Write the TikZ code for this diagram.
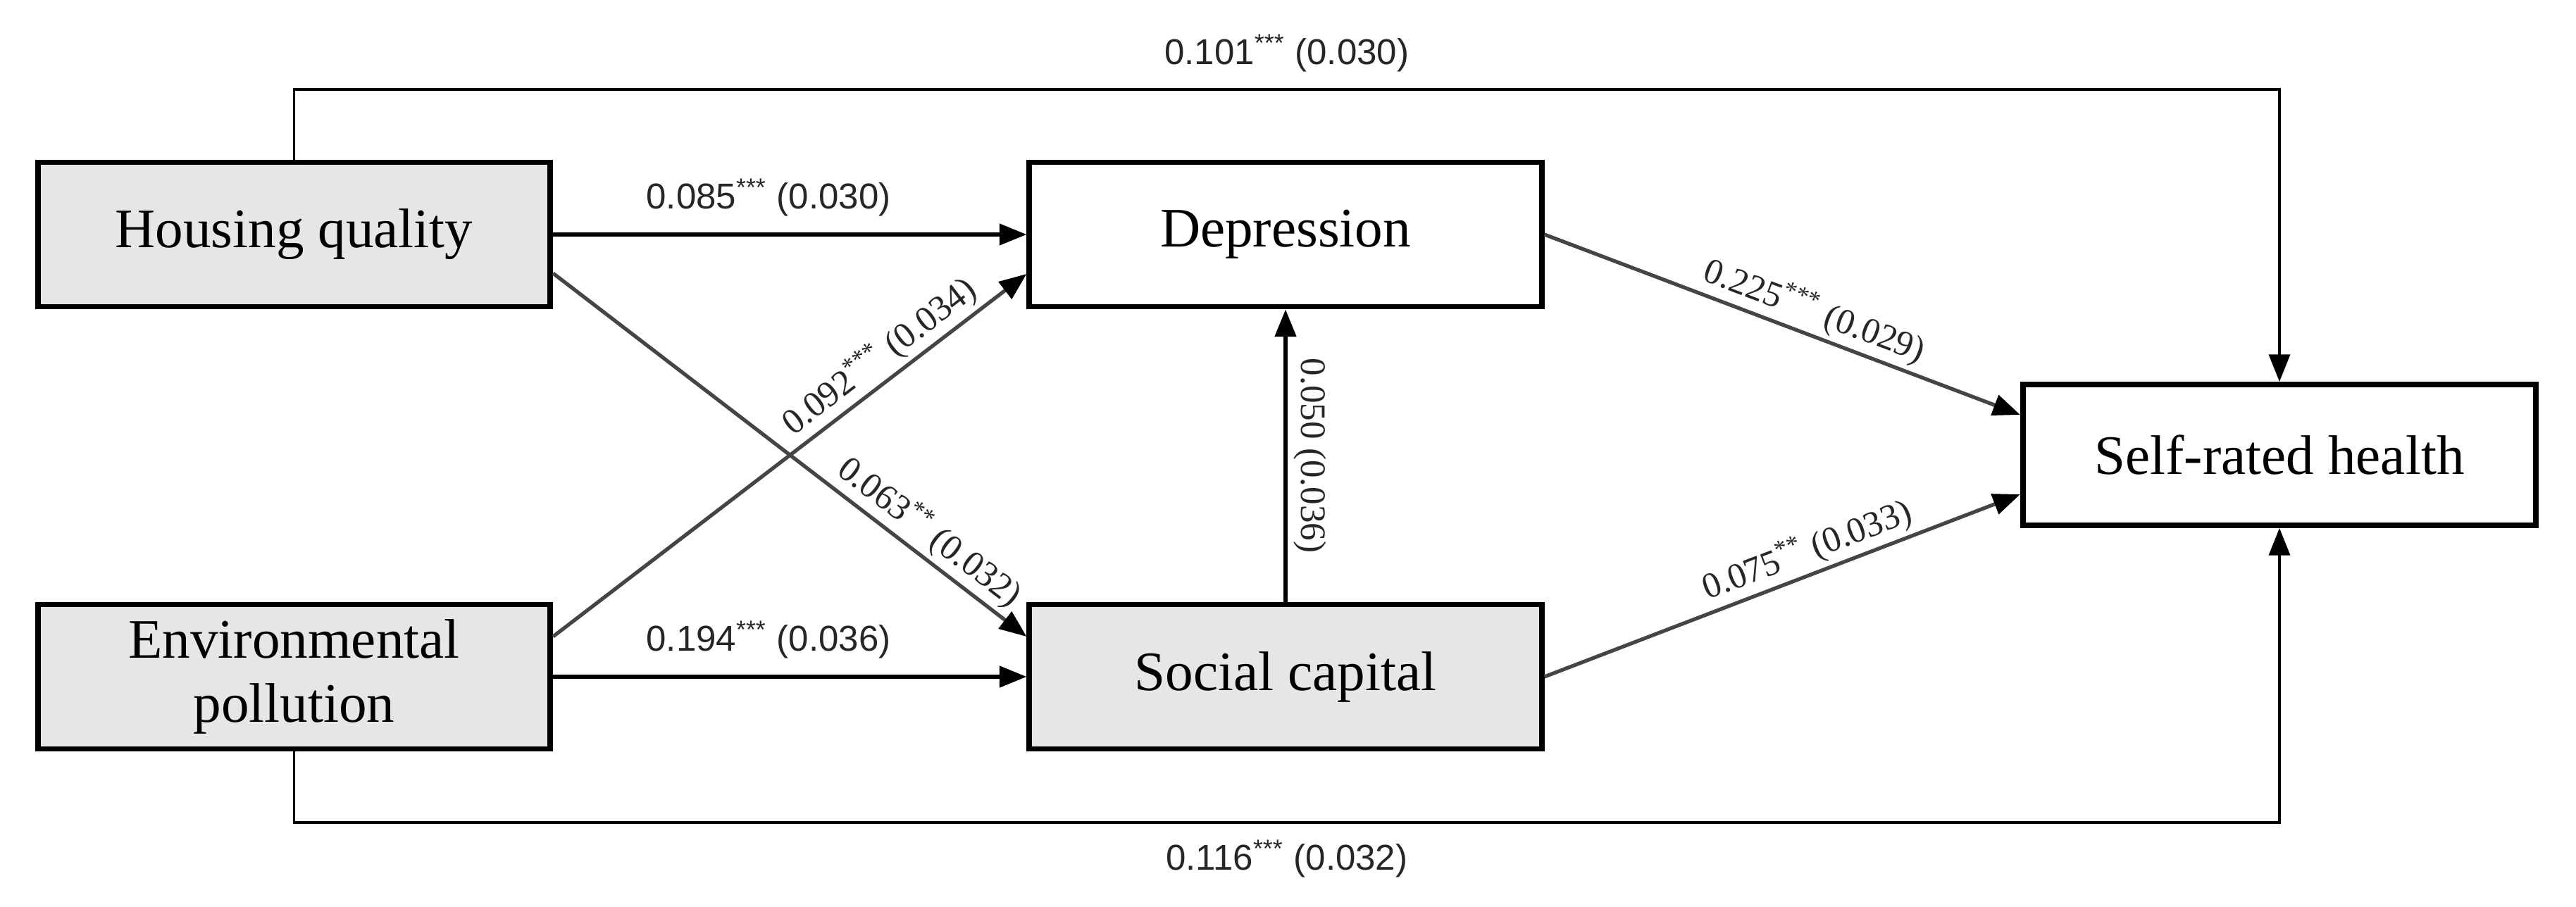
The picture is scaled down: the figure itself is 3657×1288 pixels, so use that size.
\documentclass[tikz,border=0pt]{standalone}
\usepackage{fontspec}
\setmainfont{Liberation Serif}
\newfontfamily\lblsans{Liberation Sans}
\usetikzlibrary{arrows.meta,calc}
\definecolor{boxgray}{HTML}{E6E6E6}
\definecolor{linegray}{HTML}{454545}
\begin{document}
\begin{tikzpicture}[x=0.01cm,y=-0.01cm,
 box/.style={draw=black, line width=2.2pt, minimum width=7.27cm, minimum height=2.05cm, inner sep=0pt, align=center, font=\fontsize{22.5}{26}\selectfont},
 grbox/.style={box, fill=boxgray},
 arr/.style={line width=1.5pt, -{Triangle[length=11pt,width=8.5pt,color=black]}},
 darr/.style={arr, draw=linegray},
 loopline/.style={line width=1.1pt, -{Triangle[length=11pt,width=8.5pt]}},
 slab/.style={font=\lblsans\fontsize{14.5}{16}\selectfont, inner sep=2pt, text=black!85},
 serlab/.style={font=\fontsize{14.5}{16}\selectfont, inner sep=1.5pt, sloped, text=black!85}
]
\useasboundingbox (0,0) rectangle (3657,1288);
\node[grbox] (HQ) at (417.5,333) {Housing quality};
\node[grbox] (EP) at (417.5,961) {Environmental\\pollution};
\node[box] (DEP) at (1825,333) {Depression};
\node[grbox] (SC) at (1825,961) {Social capital};
\node[box, minimum height=2.0cm, minimum width=7.28cm] (SRH) at (3236,646) {Self-rated health};
\coordinate (top) at (0,127);
\coordinate (bot) at (0,1168);
% direct paths via top and bottom
\draw[loopline] (HQ.north) -- (HQ.north |- top) -- node[slab, above=4.5pt, midway] {0.101\textsuperscript{***} (0.030)} (SRH.north |- top) -- (SRH.north);
\draw[loopline] (EP.south) -- (EP.south |- bot) -- node[slab, below=4.5pt, midway] {0.116\textsuperscript{***} (0.032)} (SRH.south |- bot) -- (SRH.south);
% horizontal arrows
\draw[arr] (HQ.east) -- node[slab, above=4.5pt, pos=0.455] {0.085\textsuperscript{***} (0.030)} (DEP.west);
\draw[arr] (EP.east) -- node[slab, above=4.5pt, pos=0.455] {0.194\textsuperscript{***} (0.036)} (SC.west);
% diagonal arrows
\draw[darr] ($(HQ.east)+(0,55)$) -- node[serlab, above, pos=0.765] {0.063\textsuperscript{**} (0.032)} ($(SC.west)+(0,-57)$);
\draw[darr] ($(EP.east)+(0,-57)$) -- node[serlab, above, pos=0.72] {0.092\textsuperscript{***} (0.034)} ($(DEP.west)+(0,56)$);
\draw[darr] (DEP.east) -- node[serlab, above, pos=0.55] {0.225\textsuperscript{***} (0.029)} ($(SRH.west)+(0,-57)$);
\draw[darr] (SC.east) -- node[serlab, above, pos=0.57] {0.075\textsuperscript{**} (0.033)} ($(SRH.west)+(0,56)$);
% vertical arrow
\draw[arr] (SC.north) -- (DEP.south);
\node[font=\fontsize{14.5}{16}\selectfont, inner sep=1.5pt, rotate=-90, anchor=south, text=black!85] (lv) at ($(SC.north)!0.5!(DEP.south)+(6,0)$) {0.050 (0.036)};
\end{tikzpicture}
\end{document}
